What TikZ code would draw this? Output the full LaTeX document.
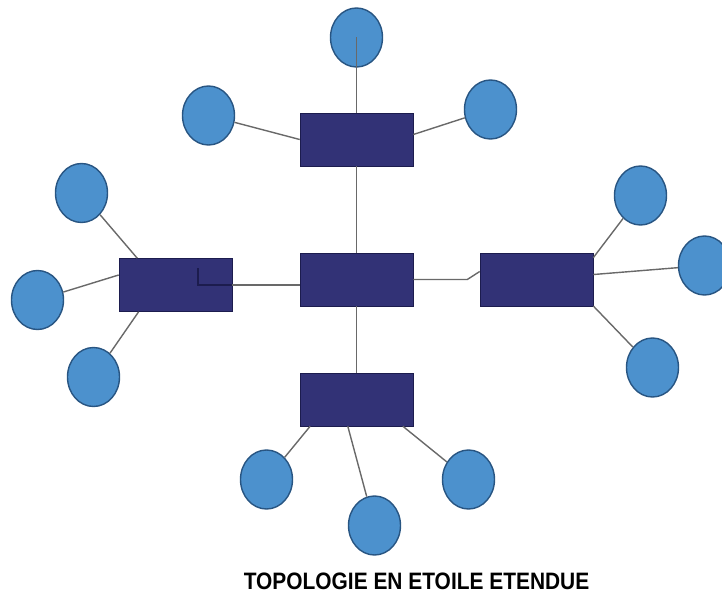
\documentclass[tikz,border=0pt]{standalone}
\usepackage{fontspec}
\usepackage{graphicx}
\usetikzlibrary{positioning,shapes.geometric}
\definecolor{switchColor}{RGB}{50,50,118}
\definecolor{switchLine}{RGB}{28,28,78}
\definecolor{hostColor}{RGB}{76,145,205}
\definecolor{hostLine}{RGB}{40,85,130}
\definecolor{wireColor}{RGB}{105,105,105}
\newfontfamily\captionfont{Liberation Sans}

\begin{document}
\begin{tikzpicture}
  	\tikzstyle{switch} = [rectangle,draw=switchLine,fill=switchColor,thin,minimum width=2.825cm,minimum height=1.325cm,inner sep=0pt]
  	\tikzstyle{host} = [ellipse,draw=hostLine,fill=hostColor,line width=1pt,minimum width=1.3cm,minimum height=1.475cm,inner sep=0pt]
  	\tikzstyle{wire} = [draw=wireColor,line width=1pt]
  	\tikzset{on grid}

	  \useasboundingbox (-8.9125,-7.9375) rectangle (9.1375,6.9875);

	  % switches
	  \node [switch] (hub) at (0,0) {};
	  \node [switch, above=3.5cm of hub] (swt) {};
	  \node [switch, below left=0.1375cm and 4.525cm of hub] (swl) {};
	  \node [switch, right=4.5cm of hub] (swr) {};
	  \node [switch, below=3cm of hub] (swb) {};

	  % hosts
	  \node [host, above=2.55cm of swt] (t1) {};
	  \node [host, above left=0.6cm and 3.7cm of swt] (t2) {};
	  \node [host, above right=0.75cm and 3.35cm of swt] (t3) {};

	  \node [host, above left=2.3cm and 2.35cm of swl] (l1) {};
	  \node [host, below left=0.375cm and 3.45cm of swl] (l2) {};
	  \node [host, below left=2.3cm and 2.05cm of swl] (l3) {};

	  \node [host, above right=2.1cm and 2.6cm of swr] (r1) {};
	  \node [host, above right=0.35cm and 4.2cm of swr] (r2) {};
	  \node [host, below right=2.2cm and 2.9cm of swr] (r3) {};

	  \node [host, below left=2cm and 2.25cm of swb] (b1) {};
	  \node [host, below right=3.15cm and 0.45cm of swb] (b2) {};
	  \node [host, below right=2cm and 2.8cm of swb] (b3) {};

	  % links
		\draw [wire] (t1.center) -- (swt);
		\draw [wire] (t2) -- (swt.west);
		\draw [wire] (t3) -- (swt.5);
		\draw [wire] (swt) -- (hub);
		\draw [wire] (hub) -- (swb);

		\draw [wire] (l1) -- (swl.145);
		\draw [wire] (l2) -- (swl.170);
		\draw [wire] (l3) -- (swl.216);

		\draw [wire] (r1) -- (swr.21);
		\draw [wire] (r2) -- (swr.5);
		\draw [wire] (r3) -- (swr.335);

		\draw [wire] (b1) -- (swb.210);
		\draw [wire] (b2) -- (swb.252);
		\draw [wire] (b3) -- (swb.330);

	  \coordinate [xshift=.5625cm, yshift=.425cm] (kink) at (swl.center);
		\draw [wire, draw=switchLine] (kink) |- (swl.east);
		\draw [wire] (swl.east) -- (hub.west |- swl.east);
		\draw [wire] (hub.east) -- ++(1.35cm,0) -- ([yshift=.2cm]swr.west);

	  \node [below right=4.54cm and 1.5cm of swb] (caption) {\captionfont\bfseries\fontsize{16.9}{20}\selectfont\scalebox{0.88}[1]{TOPOLOGIE EN ETOILE ETENDUE}};
  \end{tikzpicture}
\end{document}
